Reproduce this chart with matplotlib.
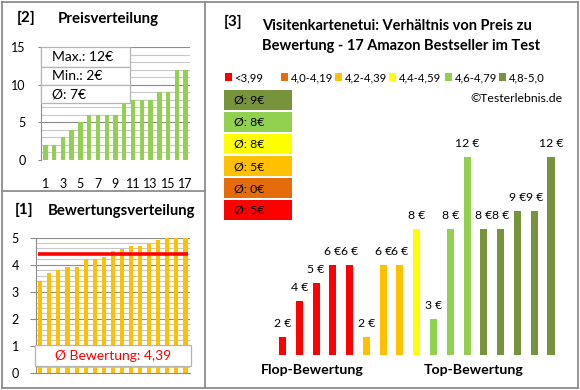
import matplotlib
matplotlib.use("Agg")
import matplotlib.pyplot as plt
from matplotlib.patches import Rectangle
from matplotlib.lines import Line2D
import numpy as np

plt.rcParams['font.family'] = ['Lato', 'DejaVu Sans']

# ---------------- data ----------------
ratings = [3.4, 3.7, 3.8, 3.9, 3.9, 4.2, 4.2, 4.3, 4.5, 4.6, 4.7, 4.7, 4.8, 4.9, 5.0, 5.0, 5.0]
prices = [2, 4, 5, 6, 6, 2, 6, 6, 8, 3, 8, 12, 8, 8, 9, 9, 12]
bin_labels = ["<3,99", "4,0-4,19", "4,2-4,39", "4,4-4,59", "4,6-4,79", "4,8-5,0"]
bin_lower = [0.0, 4.0, 4.2, 4.4, 4.6, 4.8]
bin_colors = ["#FF0000", "#E46C0A", "#FFC000", "#FFFF00", "#92D050", "#77933C"]
price_ticks = [1, 3, 5, 7, 9, 11, 13, 15, 17]

W, H = 580, 390
fig = plt.figure(figsize=(W / 100, H / 100), dpi=100)


def fx(x):
    return x / W


def fy(y):
    return 1 - y / H


def axes_px(x0, y_top, x1, y_bot):
    return fig.add_axes([fx(x0), fy(y_bot), (x1 - x0) / W, (y_bot - y_top) / H])


def bin_index(r):
    idx = 0
    for i, lo in enumerate(bin_lower):
        if r >= lo - 1e-9:
            idx = i
    return idx


FRAME = "#8C8C8C"
GRID_MINOR = "#C8C8C8"
GRID_MAJOR = "#8C8C8C"

# ---------------- frames ----------------
for (x0, y0, x1, y1) in [(1.5, 1.5, 578, 1.5), (578, 1.5, 578, 388), (1.5, 388, 578, 388),
                         (1.5, 1.5, 1.5, 388), (205, 1.5, 205, 388), (1.5, 191, 205, 191)]:
    fig.add_artist(Line2D([fx(x0), fx(x1)], [fy(y0), fy(y1)], color=FRAME, lw=1.3))

# ---------------- panel [2] price distribution ----------------
ax2 = axes_px(41, 47.3, 190, 160)
ps = sorted(prices)
xs = np.arange(1, len(ps) + 1)
ax2.set_xlim(0.5, len(ps) + 0.5)
ax2.set_ylim(0, 15)
for v in range(1, 16):
    ax2.axhline(v, color=GRID_MAJOR if v % 5 == 0 else GRID_MINOR, lw=0.8, zorder=0)
ax2.bar(xs, ps, width=0.5, color="#92D050", zorder=2)
for s in ["top", "right", "bottom"]:
    ax2.spines[s].set_visible(False)
ax2.spines["left"].set_color(GRID_MAJOR)
ax2.spines["left"].set_linewidth(0.8)
ax2.set_yticks([0, 5, 10, 15])
ax2.set_xticks(price_ticks)
ax2.tick_params(axis="y", length=2, color=GRID_MAJOR, pad=9, labelsize=9)
ax2.tick_params(axis="x", length=0, pad=13, labelsize=9)
# stats box
pmax, pmin, pmean = max(prices), min(prices), round(sum(prices) / len(prices))
stats = [f"Max.: {pmax}€", f"Min.: {pmin}€", f"Ø: {pmean}€"]
row_top = [47.3, 66.7, 85.0, 103.3]
for i, t in enumerate(stats):
    fig.add_artist(Rectangle((fx(41), fy(row_top[i + 1])), (130 - 41) / W,
                             (row_top[i + 1] - row_top[i]) / H, facecolor="white",
                             edgecolor="#B4B4B4", lw=0.9, zorder=5))
    fig.text(fx(52.5), fy((row_top[i] + row_top[i + 1]) / 2), t, fontsize=10,
             va="center", ha="left", zorder=6)
fig.text(fx(17), fy(18), "[2]", fontsize=11, fontweight="bold", va="center")
fig.text(fx(58), fy(19), "Preisverteilung", fontsize=10.8, fontweight="bold", va="center")

# ---------------- panel [1] rating distribution ----------------
ax1 = axes_px(35.7, 237.7, 190, 372.7)
rs = sorted(ratings)
xs1 = np.arange(1, len(rs) + 1)
ax1.set_xlim(0.5, len(rs) + 0.5)
ax1.set_ylim(0, 5)
for k in range(1, 26):
    v = k * 0.2
    ax1.axhline(v, color=GRID_MAJOR if k % 5 == 0 else GRID_MINOR, lw=0.8, zorder=0)
ax1.bar(xs1, rs, width=0.45, color="#FFC000", zorder=2)
rmean = sum(ratings) / len(ratings)
ax1.hlines(rmean, 0.75, len(rs) + 0.25, color="#FF0000", lw=2.6, zorder=3)
for s in ["top", "right"]:
    ax1.spines[s].set_visible(False)
for s in ["left", "bottom"]:
    ax1.spines[s].set_color(GRID_MAJOR)
    ax1.spines[s].set_linewidth(0.8)
ax1.set_yticks(range(0, 6))
ax1.set_xticks([])
ax1.tick_params(axis="y", length=4, color=GRID_MAJOR, pad=8, labelsize=9)
fig.add_artist(Rectangle((fx(35), fy(365.7)), (191 - 35) / W, (365.7 - 345) / H,
                         facecolor="white", edgecolor="#B4B4B4", lw=0.9, zorder=5))
fig.text(fx(113), fy(355.5), "Ø Bewertung: " + f"{rmean:.2f}".replace(".", ","),
         color="#FF0000", fontsize=10, ha="center", va="center", zorder=6)
fig.text(fx(15), fy(210), "[1]", fontsize=11, fontweight="bold", va="center")
fig.text(fx(48), fy(211), "Bewertungsverteilung", fontsize=10.7, fontweight="bold", va="center")

# ---------------- panel [3] price vs rating ----------------
fig.text(fx(224), fy(22), "[3]", fontsize=11, fontweight="bold", va="center")
fig.text(fx(262), fy(26), "Visitenkartenetui: Verhältnis von Preis zu",
         fontsize=10.5, fontweight="bold", va="center")
fig.text(fx(262), fy(46), "Bewertung - 17 Amazon Bestseller im Test",
         fontsize=10.5, fontweight="bold", va="center")

leg_sq_x = [225, 281, 335, 389, 445, 499]
for i, lab in enumerate(bin_labels):
    fig.add_artist(Rectangle((fx(leg_sq_x[i]), fy(80.5)), 7 / W, 7 / H,
                             facecolor=bin_colors[i], edgecolor="none"))
    fig.text(fx(leg_sq_x[i] + 9.5), fy(77.5), lab, fontsize=8.2, va="center", ha="left")
fig.text(fx(470.5), fy(98.7), "©Testerlebnis.de", fontsize=8.8, va="center", ha="left")

# average boxes, top: best bin
bins_of = [bin_index(r) for r in ratings]
for j, b in enumerate(reversed(range(len(bin_labels)))):
    vals = [p for p, bi in zip(prices, bins_of) if bi == b]
    avg = round(sum(vals) / len(vals)) if vals else 0
    top = 90 + 22 * j
    fig.add_artist(Rectangle((fx(224), fy(top + 20)), (291.7 - 224) / W, 20 / H,
                             facecolor=bin_colors[b], edgecolor="none"))
    fig.text(fx(234), fy(top + 10.5), f"Ø: {avg}€", fontsize=8.8, va="center", ha="left")

ax3 = axes_px(265.7, 130, 567.8, 355)
x3 = np.arange(len(prices))
ax3.set_xlim(-1, len(prices))
ax3.set_ylim(1, 13.5)
ax3.bar(x3, prices, width=0.42, color=[bin_colors[b] for b in bins_of])
for x, v in zip(x3, prices):
    ax3.annotate(f"{v} €", (x, v), xytext=(0, 10), textcoords="offset points",
                 ha="center", va="center", fontsize=8.8)
ax3.axis("off")
fig.text(fx(312), fy(369.5), "Flop-Bewertung", fontsize=10.2, fontweight="bold",
         ha="center", va="center")
fig.text(fx(474), fy(369.5), "Top-Bewertung", fontsize=10.2, fontweight="bold",
         ha="center", va="center")

fig.savefig("out.png", dpi=100)
